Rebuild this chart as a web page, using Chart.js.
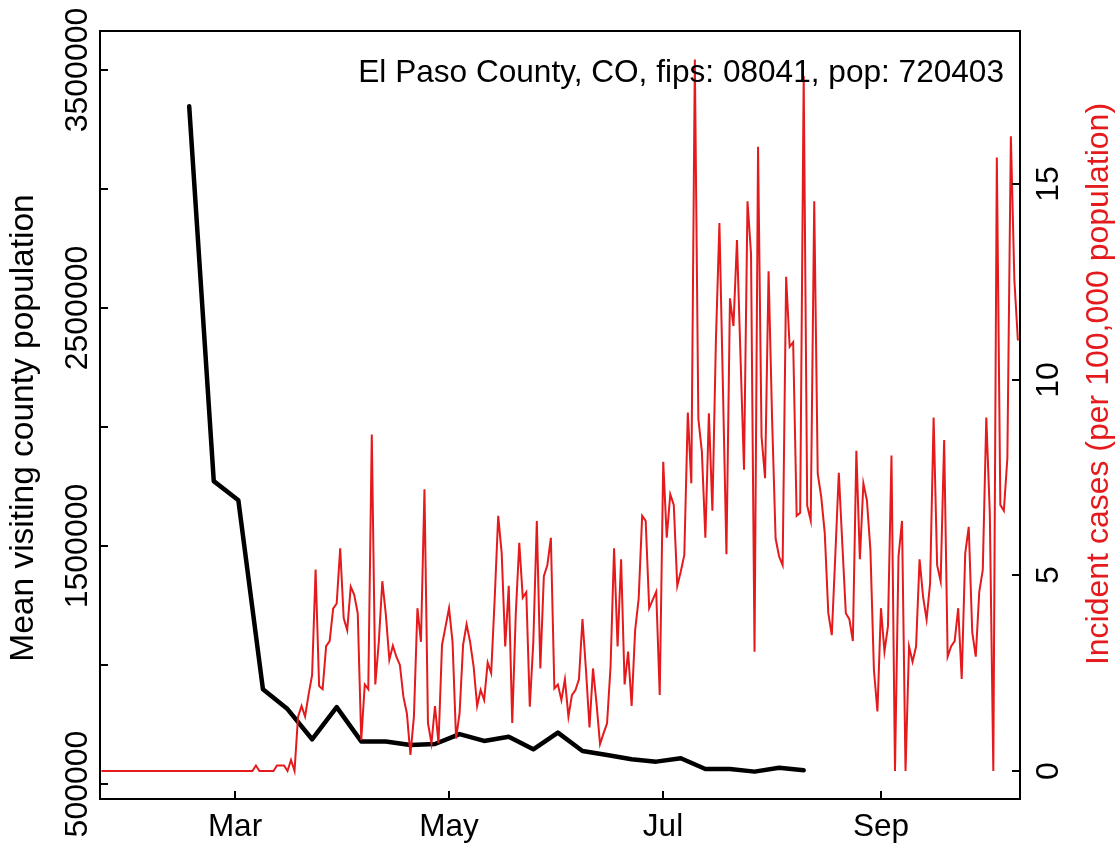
<!DOCTYPE html>
<html>
<head>
<meta charset="utf-8">
<script src="https://cdn.jsdelivr.net/npm/chart.js@4.4.0/dist/chart.umd.min.js"></script>
<style>
body { margin: 0; background: #fff; }
#caixa { width: 1119px; height: 846px; }
</style>
</head>
<body>
<div id="caixa"><canvas id="grafico"></canvas></div>
<script>
var countyLabel = 'El Paso County, CO, fips: 08041, pop: 720403';
var leftTitle = 'Mean visiting county population';
var rightTitle = 'Incident cases (per 100,000 population)';

// days counted from 1 Jan 2020 (= 0)
var visitDays = [47, 54, 61, 68, 75, 82, 89, 96, 103, 110, 117, 124, 131, 138, 145, 152, 159, 166, 173, 180, 187, 194, 201, 208, 215, 222];
var visitPop = [3349000, 1773000, 1693000, 898000, 815000, 688000, 823000, 679000, 679000, 664000, 668000, 710000, 681000,
                699000, 646000, 716000, 639000, 622000, 604000, 594000, 608000, 563000, 563000, 552000, 568000, 558000];

var caseStartDay = 22;
var caseValues = [
  0, 0, 0, 0, 0, 0, 0, 0, 0, 0, 0, 0, 0, 0, 0, 0, 0, 0, 0, 0, 0, 0,
  0, 0, 0, 0, 0, 0, 0, 0, 0, 0, 0, 0, 0, 0, 0, 0, 0, 0, 0, 0, 0,
  0, 0.14, 0, 0, 0, 0, 0, 0.14, 0.14, 0.14,
  0, 0.28, 0, 1.39, 1.66, 1.39, 1.95, 2.45, 5.15, 2.17,
  2.09, 3.19, 3.32, 4.15, 4.28, 5.69, 3.91, 3.6, 4.71, 4.5,
  4.03, 0.79, 2.21, 2.09, 8.6, 2.21, 3.3, 4.85, 4.0, 2.84,
  3.2, 2.92, 2.71, 1.9, 1.47, 0.41, 1.39, 4.16, 3.3, 7.2,
  1.22, 0.71, 1.66, 0.71, 3.22, 3.69, 4.16, 3.3, 0.83, 1.47,
  3.22, 3.75, 3.3, 2.67, 1.66, 2.07, 1.81, 2.77, 2.5, 4.4,
  6.52, 5.56, 3.18, 4.73, 1.23, 4.0, 5.83, 4.43, 4.57, 1.64,
  3.3, 6.39, 2.62, 4.98, 5.26, 5.96, 2.11, 2.21, 1.81, 2.34,
  1.39, 1.94, 2.07, 2.34, 3.88, 2.58, 1.11, 2.62, 1.73, 0.69,
  0.96, 1.22, 2.67, 5.69, 3.18, 5.41, 2.21, 3.05, 1.66, 3.6,
  4.4, 6.52, 6.39, 4.16, 4.37, 4.58, 1.94, 7.9, 5.96, 7.07,
  6.8, 4.73, 5.1, 5.52, 9.16, 7.35, 18.18, 9.0, 8.16, 5.96,
  9.14, 6.65, 11.0, 14.0, 9.8, 5.54, 12.08, 11.37, 13.57, 10.6,
  7.7, 14.56, 13.22, 3.05, 15.95, 8.54, 7.48, 12.77, 9.0, 5.94,
  5.48, 5.26, 12.63, 10.84, 10.96, 6.52, 6.6, 17.76, 6.78, 6.4,
  14.56, 7.6, 7.0, 6.08, 4.04, 3.47, 5.5, 7.62, 5.8, 4.03,
  3.88, 3.32, 8.18, 5.41, 7.35, 6.92, 5.65, 2.58, 1.52, 4.16,
  3.05, 3.7, 8.06, 0, 5.48, 6.39, 0, 3.18, 2.79, 3.18,
  5.41, 4.45, 3.87, 4.8, 9.03, 5.26, 4.85, 8.46, 2.92, 3.19,
  3.32, 4.16, 2.35, 5.56, 6.24, 3.55, 2.92, 4.58, 5.14, 9.03,
  6.6, 0, 15.68, 6.8, 6.65, 7.99, 16.22, 12.54, 11.0
];

var monthDays = [60, 121, 182, 244];
var monthNames = ['Mar', 'May', 'Jul', 'Sep'];
var popTicks = [500000, 1000000, 1500000, 2000000, 2500000, 3000000, 3500000];
var popTickLabels = ['500000', '', '1500000', '', '2500000', '', '3500000'];
var caseTicks = [0, 5, 10, 15];

var vermelho = '#e41a1c';
var familia = '"Liberation Sans", Arial, sans-serif';

var pontosVisita = visitDays.map(function (d, i) { return { x: d, y: visitPop[i] }; });
var pontosCasos = caseValues.map(function (v, i) { return { x: caseStartDay + i, y: v }; });

function textoVertical(ctx, txt, x, y) {
    ctx.save();
    ctx.translate(x, y);
    ctx.rotate(-Math.PI / 2);
    ctx.fillText(txt, 0, 0);
    ctx.restore();
}

var moldura = {
    id: 'moldura',
    afterDatasetsDraw: function (chart) {
        var ctx = chart.ctx, a = chart.chartArea;
        var sx = chart.scales.x, sy = chart.scales.y, sy2 = chart.scales.y2;
        ctx.save();
        ctx.strokeStyle = '#000';
        ctx.lineWidth = 2;
        ctx.strokeRect(a.left, a.top, a.right - a.left, a.bottom - a.top);

        ctx.font = '31.5px ' + familia;
        ctx.fillStyle = '#000';
        ctx.textAlign = 'center';
        ctx.textBaseline = 'alphabetic';
        ctx.beginPath();
        sx.ticks.forEach(function (t, i) {
            var px = Math.round(sx.getPixelForValue(t.value));
            ctx.moveTo(px, a.bottom);
            ctx.lineTo(px, a.bottom - 8);
            ctx.fillText(monthNames[i], px, 836);
        });
        ctx.font = '32px ' + familia;
        sy.ticks.forEach(function (t, i) {
            var py = Math.round(sy.getPixelForValue(t.value));
            ctx.moveTo(a.left, py);
            ctx.lineTo(a.left + 8, py);
            if (popTickLabels[i]) textoVertical(ctx, popTickLabels[i], 87, py);
        });
        sy2.ticks.forEach(function (t) {
            var py = Math.round(sy2.getPixelForValue(t.value));
            ctx.moveTo(a.right, py);
            ctx.lineTo(a.right - 8, py);
            textoVertical(ctx, String(t.value), 1058, py);
        });
        ctx.stroke();

        ctx.font = '33.5px ' + familia;
        textoVertical(ctx, leftTitle, 33, 428);
        ctx.font = '32px ' + familia;
        ctx.fillStyle = vermelho;
        textoVertical(ctx, rightTitle, 1108, 384);

        ctx.fillStyle = '#000';
        ctx.textAlign = 'right';
        ctx.font = '31.6px ' + familia;
        ctx.fillText(countyLabel, 1004, 82);
        ctx.restore();
    }
};

var ctx = document.getElementById('grafico').getContext('2d');
var myChart = new Chart(ctx, {
    type: 'line',
    data: {
        datasets: [{
            label: 'cases',
            data: pontosCasos,
            yAxisID: 'y2',
            borderColor: vermelho,
            borderWidth: 2,
            pointRadius: 0,
            tension: 0
        }, {
            label: 'visitors',
            data: pontosVisita,
            yAxisID: 'y',
            borderColor: '#000',
            borderWidth: 4.5,
            borderCapStyle: 'round',
            borderJoinStyle: 'round',
            pointRadius: 0,
            tension: 0
        }]
    },
    options: {
        responsive: true,
        maintainAspectRatio: false,
        animation: false,
        layout: { padding: { left: 100, right: 99, top: 31, bottom: 47 } },
        plugins: { legend: { display: false }, tooltip: { enabled: false } },
        scales: {
            x: {
                type: 'linear', display: false, min: 21.6, max: 283.6,
                afterBuildTicks: function (s) { s.ticks = monthDays.map(function (v) { return { value: v }; }); }
            },
            y: {
                type: 'linear', display: false, min: 436950, max: 3665200,
                afterBuildTicks: function (s) { s.ticks = popTicks.map(function (v) { return { value: v }; }); }
            },
            y2: {
                type: 'linear', display: false, position: 'right', min: -0.716, max: 18.91,
                afterBuildTicks: function (s) { s.ticks = caseTicks.map(function (v) { return { value: v }; }); }
            }
        }
    },
    plugins: [moldura]
});
</script>
</body>
</html>
